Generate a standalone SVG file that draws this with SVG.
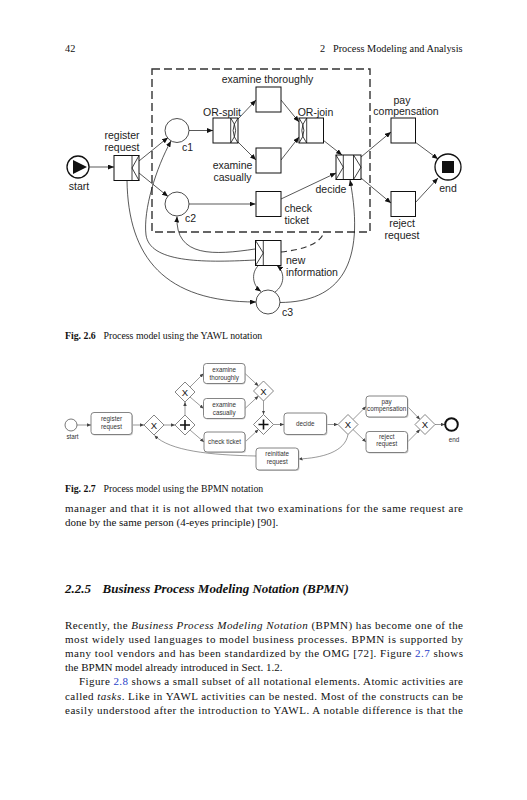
<svg xmlns="http://www.w3.org/2000/svg" width="527" height="800" viewBox="0 0 527 800">
<style>
.t{font-family:"Liberation Sans",Arial,sans-serif;font-size:10.5px;fill:#222}
.tc{text-anchor:middle}
.task{fill:#fff;stroke:#111;stroke-width:1}
.deco{fill:none;stroke:#111;stroke-width:.8}
.cond{fill:#fff;stroke:#222;stroke-width:.8}
.ln{fill:none;stroke:#111;stroke-width:.7;marker-end:url(#a)}
.dash{fill:none;stroke:#333;stroke-width:1.4;stroke-dasharray:8,4}
.b{font-family:"Liberation Sans",Arial,sans-serif;font-size:6.3px;fill:#333;text-anchor:middle}
.btask{fill:#fff;stroke:#666;stroke-width:.8}
.bsh{fill:#cfcfcf}
.gw{fill:#fff;stroke:#666;stroke-width:.8}
.gx{font-family:"Liberation Sans",Arial,sans-serif;font-size:9.5px;fill:#111;text-anchor:middle}
.plus{stroke:#111;stroke-width:1.6}
.bln{fill:none;stroke:#555;stroke-width:.6;marker-end:url(#s)}
.body{font-family:"Liberation Serif","Times New Roman",serif;font-size:11px;fill:#111}
.it{font-style:italic}
.blue{fill:#2a3fc9}
</style>
<defs>
<marker id="a" markerUnits="userSpaceOnUse" markerWidth="6" markerHeight="5" refX="6" refY="2.5" orient="auto"><path d="M0,0 L6,2.5 L0,5 z" fill="#111"/></marker>
<marker id="s" markerUnits="userSpaceOnUse" markerWidth="4" markerHeight="3.5" refX="4" refY="1.75" orient="auto"><path d="M0,0 L4,1.75 L0,3.5 z" fill="#444"/></marker>
</defs>
<rect width="527" height="800" fill="#fff"/>

<!-- header -->
<text class="body" x="65" y="52" style="font-size:10.3px">42</text>
<text class="body" x="320" y="52" style="font-size:10.3px">2</text>
<text class="body" x="462.5" y="52" style="font-size:10.3px" text-anchor="end">Process Modeling and Analysis</text>

<!-- ===== YAWL ===== -->
<rect class="dash" x="152" y="69" width="218" height="163"/>
<path d="M281,252 C300,250 320,245 324,232" fill="none" stroke="#333" stroke-width="1.2" stroke-dasharray="6,4"/>

<g id="yawl-connectors">
<path class="ln" d="M89,167 L114,167"/>
<path class="ln" d="M139,161 L168,137.5"/>
<path class="ln" d="M139,173 L168,196.5"/>
<path class="ln" d="M127,180 C128,258 165,302 256,302"/>
<path class="ln" d="M189,130.5 L213,130.5"/>
<path class="ln" d="M238,119 L256,100"/>
<path class="ln" d="M238,142 L256,160"/>
<path class="ln" d="M281,100 L299,122"/>
<path class="ln" d="M281,160 L299,137"/>
<path class="ln" d="M323,140 L342,155"/>
<path class="ln" d="M189,204 L255.5,204"/>
<path class="ln" d="M281,199 L336,173"/>
<path class="ln" d="M361,157 L391,132"/>
<path class="ln" d="M361,178 L391,203"/>
<path class="ln" d="M415,142 L438,159"/>
<path class="ln" d="M415,203 L438,178"/>
<path class="ln" d="M280,302.5 C340,302 366,265 350,180"/>
<path class="ln" d="M275,292 C285,285 285,272 277,265.5"/>
<path class="ln" d="M259,265 C251,272 252,285 261,291.5"/>
<path class="ln" d="M255,260 C200,263 150,262 146,235 C143,210 156,168 171,141"/>
<path class="ln" d="M255,249 C215,255 175,258 177,216.5"/>
</g>

<g id="start">
<circle cx="78" cy="167" r="11" fill="#fff" stroke="#111" stroke-width="1.3"/>
<polygon points="73,160 87,167 73,174" fill="#111"/>
<text class="t tc" x="79" y="190">start</text>
</g>
<g id="register-request">
<rect class="task" x="114" y="155.5" width="25" height="25"/>
<path class="deco" d="M132,155.5 V180.5 M139,155.5 L132,168 L139,180.5"/>
<text class="t tc" x="122" y="139">register</text>
<text class="t tc" x="122" y="151">request</text>
</g>
<g id="c1">
<circle class="cond" cx="177" cy="130.5" r="12"/>
<text class="t" x="182" y="151">c1</text>
</g>
<g id="c2">
<circle class="cond" cx="177" cy="204" r="12"/>
<text class="t" x="185" y="221.5">c2</text>
</g>
<g id="or-split">
<rect class="task" x="213" y="118" width="25" height="25"/>
<path class="deco" d="M230.7,118 V143 M230.7,118 Q240.5,130.5 230.7,143 M238,118 Q228.2,130.5 238,143"/>
<text class="t tc" x="222" y="115.5">OR-split</text>
</g>
<g id="examine-thoroughly">
<rect class="task" x="256" y="87" width="25" height="25"/>
<text class="t tc" x="267.5" y="83">examine thoroughly</text>
</g>
<g id="examine-casually">
<rect class="task" x="256" y="148" width="25" height="25"/>
<text class="t tc" x="232.5" y="169">examine</text>
<text class="t tc" x="232.5" y="180.5">casually</text>
</g>
<g id="check-ticket">
<rect class="task" x="256" y="191.5" width="25" height="25"/>
<text class="t" x="284.5" y="212">check</text>
<text class="t" x="284.5" y="224">ticket</text>
</g>
<g id="or-join">
<rect class="task" x="299" y="118" width="24.5" height="25"/>
<path class="deco" d="M306.7,118 V143 M299,118 Q308.8,130.5 299,143 M306.7,118 Q296.9,130.5 306.7,143"/>
<text class="t tc" x="315.5" y="115.5">OR-join</text>
</g>
<g id="decide">
<rect class="task" x="336" y="155" width="25" height="24.5"/>
<path class="deco" d="M343.3,155 V179.5 M336,155 L343.3,167.2 L336,179.5 M353.5,155 V179.5 M353.5,155 L361,167.2 L353.5,179.5"/>
<text class="t tc" x="331" y="193">decide</text>
</g>
<g id="pay-compensation">
<rect class="task" x="391" y="118" width="24.5" height="25"/>
<text class="t tc" x="402" y="103.5">pay</text>
<text class="t tc" x="406" y="115">compensation</text>
</g>
<g id="reject-request">
<rect class="task" x="391" y="191.5" width="24.5" height="25"/>
<text class="t tc" x="402" y="227">reject</text>
<text class="t tc" x="402" y="238.5">request</text>
</g>
<g id="end">
<circle cx="448" cy="167" r="13" fill="#fff" stroke="#111" stroke-width="1.3"/>
<rect x="442" y="161" width="12" height="12" fill="#111"/>
<text class="t tc" x="448" y="191.5">end</text>
</g>
<g id="new-information">
<rect class="task" x="255.5" y="240.5" width="25.5" height="25"/>
<path class="deco" d="M263.3,240.5 V265.5 M255.5,240.5 L263.3,253 L255.5,265.5"/>
<text class="t" x="286" y="263.5">new</text>
<text class="t" x="286" y="275.5">information</text>
</g>
<g id="c3">
<circle class="cond" cx="268" cy="302" r="12"/>
<text class="t" x="282" y="315.5">c3</text>
</g>

<text class="body" x="65" y="338.5" style="font-size:9.8px"><tspan font-weight="bold">Fig. 2.6</tspan><tspan x="103.5">Process model using the YAWL notation</tspan></text>

<!-- ===== BPMN ===== -->
<g id="bpmn-connectors">
<path class="bln" d="M77,425 L91,425"/>
<path class="bln" d="M132,425 L144,425"/>
<path class="bln" d="M164,425 L175,425"/>
<path class="bln" d="M185,415 L185,402"/>
<path class="bln" d="M190,387 L203.5,373.5"/>
<path class="bln" d="M190,397 L203.5,408.5"/>
<path class="bln" d="M190,430 L204,442"/>
<path class="bln" d="M245,373.5 L258.5,386"/>
<path class="bln" d="M245,408.5 L258.5,396"/>
<path class="bln" d="M263.5,401 L263.5,414.5"/>
<path class="bln" d="M245,442 L258.5,429.5"/>
<path class="bln" d="M273.5,424.5 L284,424.5"/>
<path class="bln" d="M326.5,424.5 L338,424.5"/>
<path class="bln" d="M353,419.5 L366,406.5"/>
<path class="bln" d="M353,429.5 L366,442"/>
<path class="bln" d="M407.5,406.5 L420,419.5"/>
<path class="bln" d="M407.5,442 L420,429.5"/>
<path class="bln" d="M435,424.5 L445,424.5"/>
<path class="bln" d="M348,434.5 C345,452 322,458 298.5,459"/>
<path class="bln" d="M256,456 C210,455 170,451 154.5,435.5"/>
</g>

<g id="b-start">
<circle cx="71" cy="425" r="6" fill="#fff" stroke="#555" stroke-width=".8"/>
<text class="b" x="72.5" y="438.5">start</text>
</g>
<g id="b-register">
<rect class="bsh" x="92" y="413.5" width="41" height="22" rx="3"/>
<rect class="btask" x="91" y="412.5" width="41" height="22" rx="3"/>
<text class="b" x="111.5" y="421">register</text>
<text class="b" x="111.5" y="428.5">request</text>
</g>
<g id="b-xor1">
<polygon class="gw" points="144,425 154,415 164,425 154,435"/>
<text class="gx" x="154" y="428.5">X</text>
</g>
<g id="b-and1">
<polygon class="gw" points="175,425 185,415 195,425 185,435"/>
<path class="plus" d="M180,425 H190 M185,420 V430"/>
</g>
<g id="b-xor2">
<polygon class="gw" points="175,392 185,382 195,392 185,402"/>
<text class="gx" x="185" y="395.5">X</text>
</g>
<g id="b-examine-thoroughly">
<rect class="bsh" x="204.5" y="364.5" width="41" height="20" rx="3"/>
<rect class="btask" x="203.5" y="363.5" width="41.5" height="20" rx="3"/>
<text class="b" x="224.2" y="372">examine</text>
<text class="b" x="224.2" y="379.5">thoroughly</text>
</g>
<g id="b-examine-casually">
<rect class="bsh" x="204.5" y="399.5" width="41" height="20" rx="3"/>
<rect class="btask" x="203.5" y="398.5" width="41.5" height="20" rx="3"/>
<text class="b" x="224.2" y="407">examine</text>
<text class="b" x="224.2" y="414.5">casually</text>
</g>
<g id="b-check-ticket">
<rect class="bsh" x="205" y="433" width="41" height="20" rx="3"/>
<rect class="btask" x="204" y="432" width="41" height="20" rx="3"/>
<text class="b" x="224.5" y="444">check ticket</text>
</g>
<g id="b-xor3">
<polygon class="gw" points="253.5,391 263.5,381 273.5,391 263.5,401"/>
<text class="gx" x="263.5" y="394.5">X</text>
</g>
<g id="b-and2">
<polygon class="gw" points="253.5,424.5 263.5,414.5 273.5,424.5 263.5,434.5"/>
<path class="plus" d="M258.5,424.5 H268.5 M263.5,419.5 V429.5"/>
</g>
<g id="b-decide">
<rect class="bsh" x="285" y="414" width="42.5" height="21.5" rx="3"/>
<rect class="btask" x="284" y="413" width="42.5" height="21.5" rx="3"/>
<text class="b" x="305.2" y="426">decide</text>
</g>
<g id="b-xor4">
<polygon class="gw" points="338,424.5 348,414.5 358,424.5 348,434.5"/>
<text class="gx" x="348" y="428">X</text>
</g>
<g id="b-pay">
<rect class="bsh" x="367" y="397" width="41.5" height="21" rx="3"/>
<rect class="btask" x="366" y="396" width="41.5" height="21" rx="3"/>
<text class="b" x="386.7" y="404.3">pay</text>
<text class="b" x="386.7" y="411">compensation</text>
</g>
<g id="b-reject">
<rect class="bsh" x="367" y="432.5" width="41.5" height="21" rx="3"/>
<rect class="btask" x="366" y="431.5" width="41.5" height="21" rx="3"/>
<text class="b" x="386.7" y="438.5">reject</text>
<text class="b" x="386.7" y="446">request</text>
</g>
<g id="b-xor5">
<polygon class="gw" points="415,424.5 425,414.5 435,424.5 425,434.5"/>
<text class="gx" x="425" y="428">X</text>
</g>
<g id="b-end">
<circle cx="451.5" cy="424.5" r="6.3" fill="#fff" stroke="#111" stroke-width="2"/>
<text class="b" x="454" y="442">end</text>
</g>
<g id="b-reinitiate">
<rect class="bsh" x="257" y="449" width="42.5" height="22" rx="3"/>
<rect class="btask" x="256" y="448" width="42.5" height="22" rx="3"/>
<text class="b" x="277.2" y="456">reinitiate</text>
<text class="b" x="277.2" y="464">request</text>
</g>

<text class="body" x="65" y="492" style="font-size:9.8px"><tspan font-weight="bold">Fig. 2.7</tspan><tspan x="103.5">Process model using the BPMN notation</tspan></text>

<!-- body text -->
<text class="body" x="65" y="511.5" textLength="398" lengthAdjust="spacing">manager and that it is not allowed that two examinations for the same request are</text>
<text class="body" x="65" y="525.7">done by the same person (4-eyes principle) [90].</text>

<text class="body" x="65" y="593" style="font-size:13px;font-weight:bold;font-style:italic">2.2.5<tspan x="102.5">Business Process Modeling Notation (BPMN)</tspan></text>

<text class="body" x="65" y="628.5" textLength="398" lengthAdjust="spacing">Recently, the <tspan class="it">Business Process Modeling Notation</tspan> (BPMN) has become one of the</text>
<text class="body" x="65" y="642.7" textLength="398" lengthAdjust="spacing">most widely used languages to model business processes. BPMN is supported by</text>
<text class="body" x="65" y="656.9" textLength="398" lengthAdjust="spacing">many tool vendors and has been standardized by the OMG [72]. Figure <tspan class="blue">2.7</tspan> shows</text>
<text class="body" x="65" y="671.1">the BPMN model already introduced in Sect. 1.2.</text>
<text class="body" x="79" y="685.3" textLength="384" lengthAdjust="spacing">Figure <tspan class="blue">2.8</tspan> shows a small subset of all notational elements. Atomic activities are</text>
<text class="body" x="65" y="699.5" textLength="398" lengthAdjust="spacing">called <tspan class="it">tasks</tspan>. Like in YAWL activities can be nested. Most of the constructs can be</text>
<text class="body" x="65" y="713.7" textLength="398" lengthAdjust="spacing">easily understood after the introduction to YAWL. A notable difference is that the</text>
</svg>
